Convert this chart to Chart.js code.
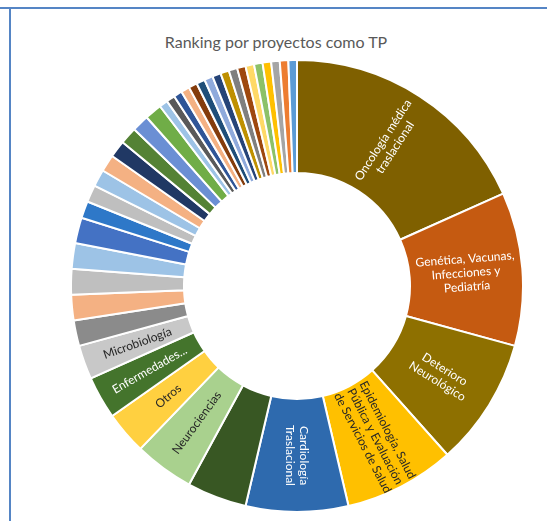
<!DOCTYPE html>
<html>
<head>
<meta charset="utf-8">
<script src="https://cdn.jsdelivr.net/npm/chart.js@4.4.1/dist/chart.umd.min.js"></script>
<style>
  html, body { margin: 0; padding: 0; background: #fff; }
  body { width: 547px; height: 521px; position: relative; overflow: hidden; font-family: Lato, sans-serif; }
  #frameTop { position: absolute; left: 0; top: 7px; width: 547px; height: 2px; background: #5585c5; }
  #frameLeft { position: absolute; left: 9px; top: 7px; width: 2px; height: 514px; background: #5585c5; }
  #title { position: absolute; left: 0; top: 32px; width: 552px; text-align: center; font-size: 16px; color: #595959; }
  #chartBox { position: absolute; left: 70px; top: 59px; width: 454px; height: 454px; }
</style>
</head>
<body>
<div id="frameTop"></div>
<div id="frameLeft"></div>
<div id="title">Ranking por proyectos como TP</div>
<div id="chartBox"><canvas id="ranking" width="454" height="454"></canvas></div>
<script>
// areas, clockwise from the top; only the bigger slices carry a name
const categories = [
  'Oncología médica\ntraslacional',
  'Genética, Vacunas,\nInfecciones y\nPediatría',
  'Deterioro\nNeurológico',
  'Epidemiología, Salud\nPública y Evaluación\nde Servicios de Salud',
  'Cardiología\nTraslacional',
  '',
  'Neurociencias',
  'Otros',
  'Enfermedades...',
  'Microbiología',
  '', '', '', '', '',
  '', '', '', '', '', '', '', '',
  '', '', '', '', '', '', '', '', '', '', '', '', '', '', '', '', ''
];

// number of projects per area
const projects = [
  30, 18, 15, 13, 12, 7, 7, 5, 5, 4,
  3, 3, 3, 3, 3,
  2, 2, 2, 2, 2, 2, 2, 2,
  1, 1, 1, 1, 1, 1, 1, 1, 1, 1, 1, 1, 1, 1, 1, 1, 1
];

const sliceColors = [
  '#7f6000', '#c55a11', '#8e7000', '#ffc000', '#2e6aae', '#385723', '#a9d18e', '#ffd040', '#44742c', '#c8c8c8',
  '#8b8b8b', '#f4b183', '#bfbfbf', '#9dc3e6', '#4472c4',
  '#2e78c8', '#bfbfbf', '#9dc3e6', '#f4b183', '#203864', '#548235', '#6b8fd4', '#70ad47',
  '#9dc3e6', '#595959', '#2f5597', '#f4b183', '#843c0c', '#1f4e79', '#8faadc', '#264478',
  '#bf9000', '#7f7f7f', '#9e480e', '#ffd966', '#8cc168', '#ffc000', '#a5a5a5', '#ed7d31', '#5b9bd5'
];

const labelInk = [
  '#ffffff', '#ffffff', '#ffffff', '#262626', '#ffffff', '#ffffff', '#262626', '#262626', '#ffffff', '#262626'
];

// writes each name along the radius of its slice
const sliceLabels = {
  id: 'sliceLabels',
  afterDatasetsDraw(chart) {
    const ctx = chart.ctx;
    const arcs = chart.getDatasetMeta(0).data;
    ctx.save();
    ctx.font = '12px Lato';
    ctx.textAlign = 'center';
    ctx.textBaseline = 'middle';
    arcs.forEach((arc, i) => {
      const text = categories[i];
      if (!text) return;
      const a = (arc.startAngle + arc.endAngle) / 2;
      const r = (arc.innerRadius + arc.outerRadius) / 2;
      let rot = a;
      if (a + Math.PI / 2 > Math.PI) rot = a - Math.PI;
      const lines = text.split('\n');
      const lh = 14;
      ctx.save();
      ctx.translate(arc.x + Math.cos(a) * r, arc.y + Math.sin(a) * r);
      ctx.rotate(rot);
      ctx.fillStyle = labelInk[i] || '#262626';
      lines.forEach((line, k) => {
        ctx.fillText(line, 0, (k - (lines.length - 1) / 2) * lh);
      });
      ctx.restore();
    });
    ctx.restore();
  }
};

new Chart(document.getElementById('ranking'), {
  type: 'doughnut',
  data: {
    labels: categories,
    datasets: [{
      data: projects,
      backgroundColor: sliceColors,
      borderColor: '#ffffff',
      borderWidth: 2
    }]
  },
  options: {
    responsive: false,
    animation: false,
    cutout: '50%',
    plugins: {
      legend: { display: false },
      tooltip: { enabled: false }
    }
  },
  plugins: [sliceLabels]
});
</script>
</body>
</html>
